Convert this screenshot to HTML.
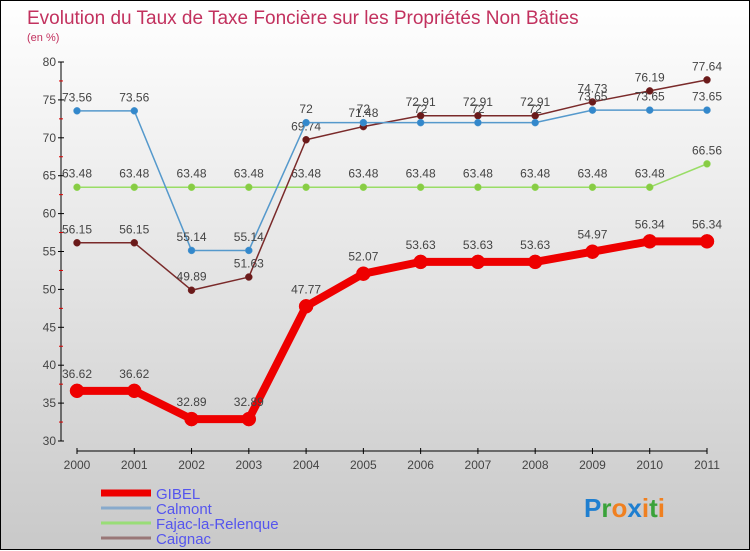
<!DOCTYPE html>
<html><head><meta charset="utf-8"><style>
body{margin:0}
#c{width:750px;height:550px;position:relative;background:linear-gradient(#ffffff,#c9c9c9);border:1px solid #000;box-sizing:border-box;font-family:"Liberation Sans",sans-serif}
</style></head><body>
<div id="c">
<svg id="s" width="750" height="550" style="position:absolute;left:0;top:0" font-family="Liberation Sans, sans-serif">
<text x="26" y="23" font-size="19" fill="#c2315e">Evolution du Taux de Taxe Foncière sur les Propriétés Non Bâties</text>
<text x="26" y="40" font-size="11" fill="#c2315e">(en %)</text>
<g id="axes"></g><g id="series"></g><g id="legend"></g>
<text x="583" y="516" font-size="26" font-weight="bold"><tspan fill="#1f7fd0">P</tspan><tspan fill="#3aa23a">r</tspan><tspan fill="#f08020">o</tspan><tspan fill="#1f7fd0">x</tspan><tspan fill="#f08020">i</tspan><tspan fill="#3aa23a">t</tspan><tspan fill="#f08020">i</tspan></text>
</svg>
</div>
<script>
const years=[2000,2001,2002,2003,2004,2005,2006,2007,2008,2009,2010,2011];
const yTicks=[30,35,40,45,50,55,60,65,70,75,80];
const gibel=[36.62,36.62,32.89,32.89,47.77,52.07,53.63,53.63,53.63,54.97,56.34,56.34];
const calmont=[73.56,73.56,55.14,55.14,72,72,72,72,72,73.65,73.65,73.65];
const fajac=[63.48,63.48,63.48,63.48,63.48,63.48,63.48,63.48,63.48,63.48,63.48,66.56];
const caignac=[56.15,56.15,49.89,51.63,69.74,71.48,72.91,72.91,72.91,74.73,76.19,77.64];
const NS="http://www.w3.org/2000/svg";
const X=i=>76+i*(706-76)/11;
const Y=v=>440-(v-30)*(440-61)/50;
function mk(p,t,a){const e=document.createElementNS(NS,t);for(const k in a)e.setAttribute(k,a[k]);p.appendChild(e);return e;}
const ax=document.getElementById('axes');
let l=mk(ax,'line',{x1:60,y1:Y(80),x2:60,y2:Y(30),stroke:'#000'});


l=mk(ax,'line',{x1:X(0),y1:450,x2:X(11),y2:450,stroke:'#000'});


yTicks.forEach(v=>{mk(ax,'line',{x1:57,y1:Y(v),x2:63,y2:Y(v),stroke:'#000'});
 if(v<80)mk(ax,'line',{x1:58,y1:Y(v+2.5),x2:62,y2:Y(v+2.5),stroke:'#d00'});
 const t=mk(ax,'text',{x:55,y:Y(v)+4,'font-size':12,'text-anchor':'end',fill:'#444'});t.textContent=v;
 
 });
years.forEach((y,i)=>{mk(ax,'line',{x1:X(i),y1:447,x2:X(i),y2:453,stroke:'#000'});
 const t=mk(ax,'text',{x:X(i),y:468,'font-size':12,'text-anchor':'middle',fill:'#444'});t.textContent=y;
 
 });
const sg=document.getElementById('series');
function draw(d,col,w,r,name,dot){
 const pl=mk(sg,'polyline',{points:d.map((v,i)=>X(i)+','+Y(v)).join(' '),fill:'none',stroke:col,'stroke-width':w,'stroke-linejoin':'round'});
 
 
 d.forEach((v,i)=>{const c=mk(sg,'circle',{cx:X(i),cy:Y(v),r:r,fill:dot,stroke:col,'stroke-width':0.5});
  
  
  const t=mk(sg,'text',{x:X(i),y:Y(v)-(r+6),'font-size':12,'text-anchor':'middle',fill:'#444'});t.textContent=v;
  
  });
}
draw(fajac,'#99dd66',1.5,3.5,'fajac','#88cc44');
draw(caignac,'#7a2a2a',1.5,3.5,'caignac','#6a1a1a');
draw(calmont,'#5599cc',1.5,3.5,'calmont','#3388cc');
draw(gibel,'#ee0000',8,7,'gibel','#ee0000');
const lg=document.getElementById('legend');
[['GIBEL','#ee0000',7],['Calmont','#88aacc',3],['Fajac-la-Relenque','#99dd77',3],['Caignac','#997777',3]].forEach((e,i)=>{
 const y=492+i*15;
 const g=mk(lg,'g',{});
 
 
 mk(g,'line',{x1:100,y1:y,x2:150,y2:y,stroke:e[1],'stroke-width':e[2]});
 const t=mk(g,'text',{x:155,y:y+6,'font-size':15,fill:'#5555ee'});t.textContent=e[0];
});
</script>
</body></html>
